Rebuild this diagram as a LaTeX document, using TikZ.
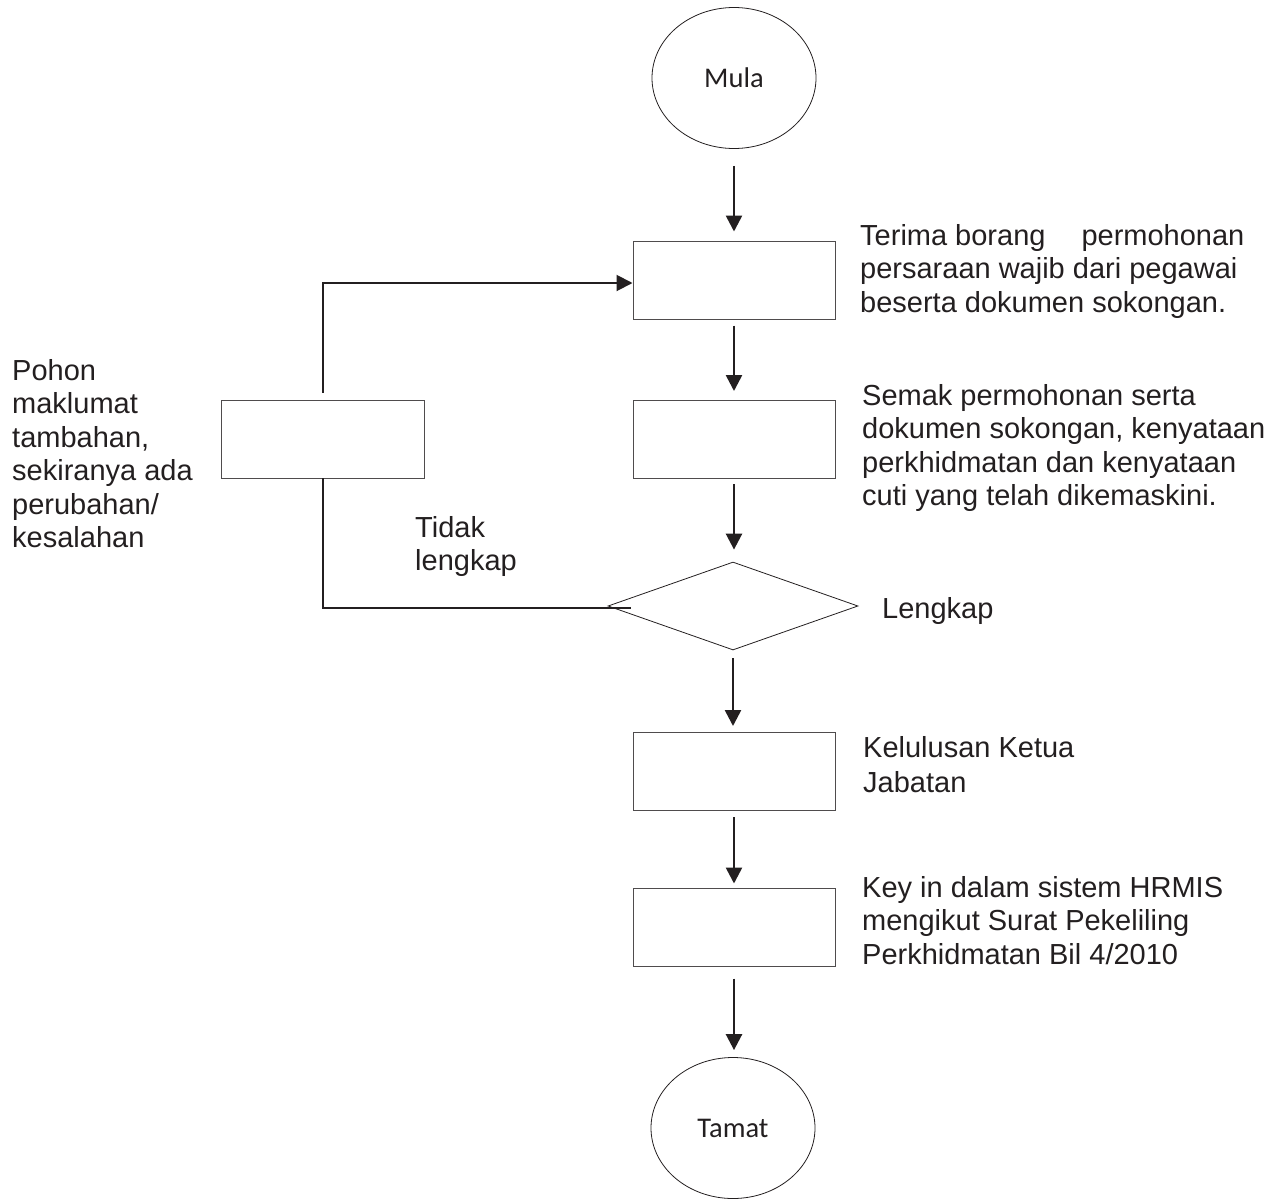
\documentclass[tikz,border=0pt]{standalone}
\usepackage{fontspec}
\setmainfont{Liberation Sans}
\newfontfamily\calibfont{Carlito}
\usetikzlibrary{shapes.geometric,arrows.meta}
\definecolor{ink}{RGB}{35,31,32}
\begin{document}
\begin{tikzpicture}[x=1pt,y=-1pt,
  txt/.style={anchor=north west,inner sep=0pt,align=left,text=ink,font=\fontsize{29}{33.5}\selectfont},
  term/.style={ellipse,draw=ink,line width=0.8pt,minimum width=164pt,minimum height=141pt,inner sep=0pt,text=ink,font=\calibfont\fontsize{28.5}{32}\selectfont},
  proc/.style={rectangle,draw=ink!80,line width=1pt,minimum width=202pt,minimum height=78pt,inner sep=0pt},
  dec/.style={diamond,draw=ink,line width=0.8pt,minimum width=250pt,minimum height=88pt,aspect=2.84,inner sep=0pt},
  flow/.style={draw=ink,line width=2.6pt,-{Triangle[length=16pt,width=16pt]}},
  loopline/.style={draw=ink,line width=2pt,line cap=rect}
]
\useasboundingbox (0,0) rectangle (1286,1200);

% main column
\node[term] (mula) at (734,78) {Mula};
\node[proc] (b1) at (734,280) {};
\node[proc] (b2) at (734,439.5) {};
\node[dec] (dec) at (733,606) {};
\node[proc] (b4) at (734,771.5) {};
\node[proc] (b5) at (734,927) {};
\node[term] (tamat) at (733,1128) {Tamat};
\node[proc,minimum width=203pt] (lb) at (323,439.5) {};

% flow arrows
\draw[flow,shorten <=17pt,shorten >=9pt] (mula.south) -- (mula.south |- b1.north);
\draw[flow,shorten <=6pt,shorten >=9pt] (b1.south) -- (b1.south |- b2.north);
\draw[flow,shorten <=5pt,shorten >=12pt] (b2.south) -- (b2.south |- dec.north);
\draw[flow,shorten <=8pt,shorten >=6pt] (dec.south) -- (dec.south |- b4.north);
\draw[flow,shorten <=6pt,shorten >=4pt] (b4.south) -- (b4.south |- b5.north);
\draw[flow,shorten <=12pt,shorten >=7pt] (b5.south) -- (b5.south |- tamat.north);

% loop back
\coordinate (lc) at (323,608);
\draw[loopline] ([xshift=22pt,yshift=-2pt]dec.west) -- (lc) -- (lb.south);
\draw[flow,line width=2pt,line cap=rect] ([yshift=8pt]lb.north) |- ([yshift=-3pt]b1.west);

% texts
\node[txt] (t1) at (860,224) {Terima borang\hspace{36pt}permohonan\\persaraan wajib dari pegawai\\beserta dokumen sokongan.};
\node[txt] (t2) at (862,384) {Semak permohonan serta\\dokumen sokongan, kenyataan\\perkhidmatan dan kenyataan\\cuti yang telah dikemaskini.};
\node[txt] (t3) at (12,359) {Pohon\\maklumat\\tambahan,\\sekiranya ada\\perubahan/\\kesalahan};
\node[txt] (t4) at (415,516) {Tidak\\lengkap};
\node[txt] (t5) at (882,597) {Lengkap};
\node[txt] (t6) at (863,736) {Kelulusan Ketua\\[1.5pt]Jabatan};
\node[txt] (t7) at (862,876) {Key in dalam sistem HRMIS\\mengikut Surat Pekeliling\\Perkhidmatan Bil 4/2010};
\end{tikzpicture}
\end{document}
